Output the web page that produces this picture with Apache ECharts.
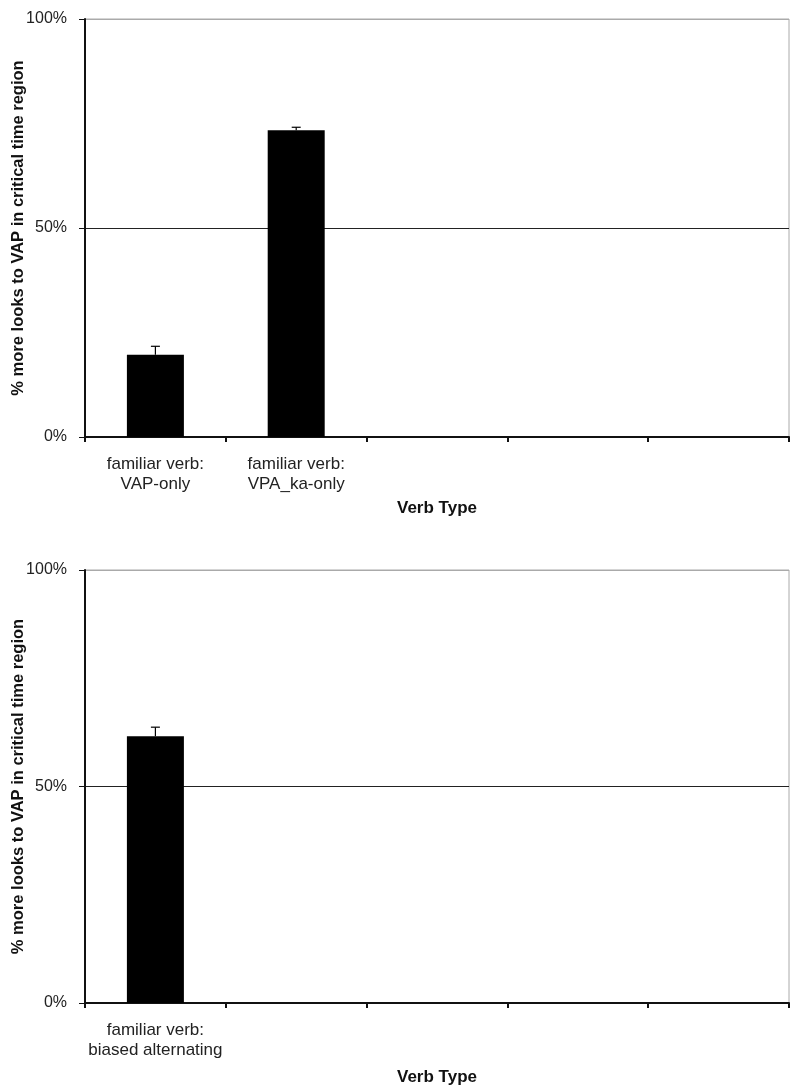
<!DOCTYPE html>
<html>
<head>
<meta charset="utf-8">
<script src="https://cdn.jsdelivr.net/npm/echarts@6/dist/echarts.min.js"></script>
<style>
  html, body { margin: 0; padding: 0; background: #fff; }
  #chart { width: 800px; height: 1091px; }
</style>
</head>
<body>
<div id="chart"></div>
<script>
// values (percent)
const topCategories = ['familiar verb:\nVAP-only', 'familiar verb:\nVPA_ka-only', '', '', ''];
const topValues = [19.7, 73.4];
const topErrors = [2.0, 0.7];

const bottomCategories = ['familiar verb:\nbiased alternating', '', '', '', ''];
const bottomValues = [61.6];
const bottomErrors = [2.1];

const yTitle = '% more looks to VAP in critical time region';
const xTitle = 'Verb Type';

const font = 'Liberation Sans, Arial, sans-serif';

let chart = echarts.init(document.getElementById('chart'));

// error bar: only the upper whisker shows above the black bar
const errorItem = (params, api) => {
  let x = api.value(0);
  let v = api.value(1);
  let e = api.value(2);
  let base = api.coord([x, v]);
  let top = api.coord([x, v + e]);
  let half = 4.5;
  return {
    type: 'group',
    children: [
      { type: 'line', shape: { x1: base[0], y1: base[1], x2: top[0], y2: top[1] }, style: { stroke: '#000', lineWidth: 1.2 } },
      { type: 'line', shape: { x1: top[0] - half, y1: top[1], x2: top[0] + half, y2: top[1] }, style: { stroke: '#000', lineWidth: 1.2 } }
    ]
  };
};

const makeX = (idx, cats, gap) => ({
  type: 'category',
  gridIndex: idx,
  data: cats,
  boundaryGap: true,
  name: xTitle,
  nameLocation: 'middle',
  nameGap: gap,
  nameMoveOverlap: false,
  nameTextStyle: { fontFamily: font, fontWeight: 'bold', fontSize: 17, color: '#111' },
  axisLine: { lineStyle: { color: '#111', width: 2 } },
  axisTick: { show: true, alignWithLabel: false, length: 5, lineStyle: { color: '#111', width: 2 } },
  axisLabel: { interval: 0, margin: 17, fontFamily: font, fontSize: 17, color: '#222', lineHeight: 20 },
  splitLine: { show: false }
});

const makeY = (idx) => ({
  type: 'value',
  gridIndex: idx,
  min: 0,
  max: 100,
  interval: 50,
  name: yTitle,
  nameLocation: 'middle',
  nameGap: 58,
  nameRotate: 90,
  nameMoveOverlap: false,
  nameTextStyle: { fontFamily: font, fontWeight: 'bold', fontSize: 16.5, color: '#111' },
  axisLine: { show: true, lineStyle: { color: '#111', width: 2 } },
  axisTick: { show: true, length: 6, lineStyle: { color: '#111', width: 1 } },
  axisLabel: { formatter: '{value}%', margin: 18, fontFamily: font, fontSize: 16, color: '#222' },
  splitLine: { show: true, lineStyle: { color: ['#111', '#222', '#aaa'], width: 1 } }
});

let option = {
  animation: false,
  backgroundColor: '#fff',
  grid: [
    { left: 85, top: 19, width: 704, height: 418, show: true, borderColor: '#aaa', borderWidth: 1, outerBoundsMode: 'none', containLabel: false },
    { left: 85, top: 570, width: 704, height: 433, show: true, borderColor: '#aaa', borderWidth: 1, outerBoundsMode: 'none', containLabel: false }
  ],
  xAxis: [makeX(0, topCategories, 63), makeX(1, bottomCategories, 66)],
  yAxis: [makeY(0), makeY(1)],
  series: [
    {
      type: 'bar', xAxisIndex: 0, yAxisIndex: 0, barWidth: 57,
      itemStyle: { color: '#000' }, data: topValues
    },
    {
      type: 'custom', xAxisIndex: 0, yAxisIndex: 0, z: 3,
      renderItem: errorItem,
      data: topValues.map((v, i) => [i, v, topErrors[i]])
    },
    {
      type: 'bar', xAxisIndex: 1, yAxisIndex: 1, barWidth: 57,
      itemStyle: { color: '#000' }, data: bottomValues
    },
    {
      type: 'custom', xAxisIndex: 1, yAxisIndex: 1, z: 3,
      renderItem: errorItem,
      data: bottomValues.map((v, i) => [i, v, bottomErrors[i]])
    }
  ]
};

chart.setOption(option);
window.addEventListener('resize', function () {
  chart && chart.resize();
});
</script>
</body>
</html>
